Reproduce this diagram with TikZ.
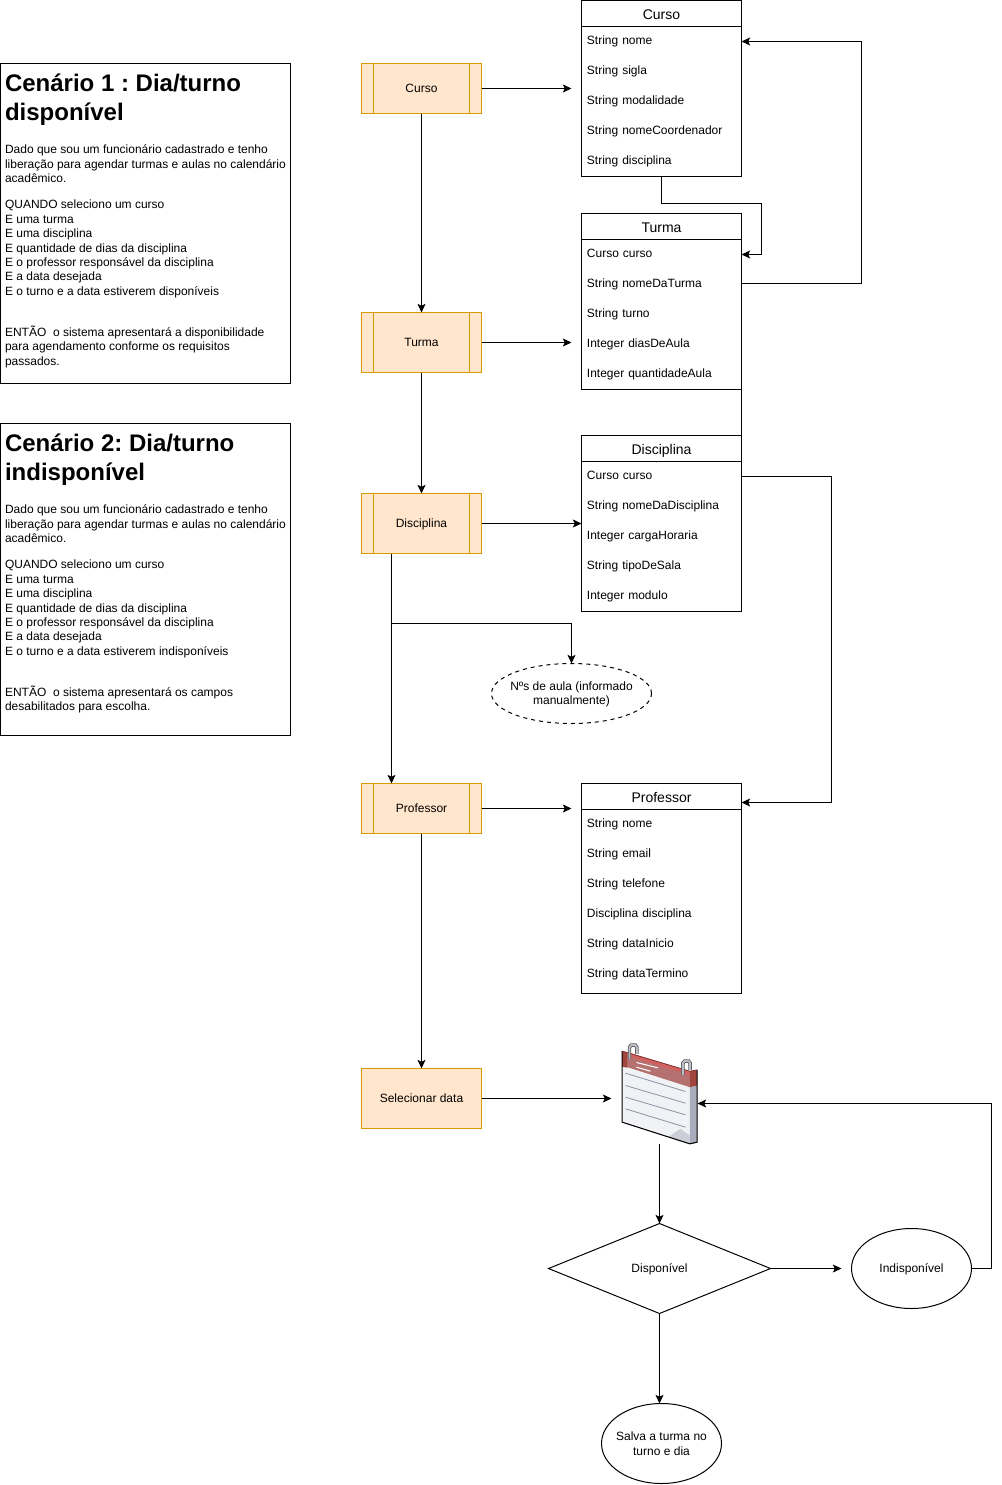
\documentclass[tikz,border=0pt]{standalone}
\usepackage{fontspec}
\setmainfont{Liberation Sans}
\frenchspacing
\usetikzlibrary{arrows.meta,shapes.geometric}

\definecolor{procFundo}{HTML}{FFE6CC}
\definecolor{procLinha}{HTML}{D79B00}
\definecolor{calFolha}{HTML}{F1F2F5}
\definecolor{calLado}{HTML}{A8ACBC}
\definecolor{calFaixa}{HTML}{B5716F}
\definecolor{calClaro}{HTML}{D2605E}
\definecolor{calEscuro}{HTML}{A2453F}
\definecolor{calAro}{HTML}{8E93A3}

\tikzset{
  every node/.style={font=\fontsize{9}{10.8}\selectfont, outer sep=0pt, inner sep=0pt},
  seta/.style={-{Stealth[length=6.5pt,width=6pt,inset=1.5pt]}, line width=0.75pt},
  linhaCon/.style={line width=0.75pt},
  caixa/.style={draw, line width=0.75pt, minimum width=120pt},
  titulo/.style={caixa, minimum height=19.5pt, font=\fontsize{10.5}{12}\selectfont, text height=9pt, text depth=0.5pt},
  linha/.style={minimum width=120pt, minimum height=22.5pt, inner xsep=4.1pt, text width=111.8pt, align=left, text height=7pt, text depth=2pt},
  procBase/.style={draw=procLinha, fill=procFundo, line width=0.75pt, minimum width=90pt, text height=7.75pt, text depth=1.25pt},
  processo/.style={procBase, path picture={
    \draw[procLinha, line width=0.75pt] ([xshift=9pt]path picture bounding box.north west) -- ([xshift=9pt]path picture bounding box.south west);
    \draw[procLinha, line width=0.75pt] ([xshift=-9pt]path picture bounding box.north east) -- ([xshift=-9pt]path picture bounding box.south east);
  }},
  elipse/.style={draw, ellipse, line width=0.75pt, minimum width=90pt, minimum height=60pt, align=center},
  cenario/.style={draw, line width=0.75pt, minimum width=217.5pt},
  cenTitulo/.style={anchor=north west, align=left, font=\fontsize{18}{21.6}\selectfont\bfseries},
  cenTexto/.style={anchor=north west, align=left}
}

\begin{document}
\begin{tikzpicture}[x=0.75pt,y=-0.75pt]

\useasboundingbox (-0.5,-0.5) rectangle (1000.5,1484.5);

% Cenario 1
\node[cenario, minimum height=240pt] (cen1) at (145,223) {};
\node[cenTitulo] (cen1Tit) at (4.5,73.5) {Cenário 1 : Dia/turno\\disponível};
\node[cenTexto] (cen1Txt) at (4.5,144.4) {Dado que sou um funcionário cadastrado e tenho\\
liberação para agendar turmas e aulas no calendário\\
acadêmico.\\[9pt]
QUANDO seleciono um curso\\
E uma turma\\
E uma disciplina\\
E quantidade de dias da disciplina\\
E o professor responsável da disciplina\\
E a data desejada\\
E o turno e a data estiverem disponíveis\\[20pt]
ENTÃO\ \ o sistema apresentará a disponibilidade\\
para agendamento conforme os requisitos\\
passados.};

% Cenario 2
\node[cenario, minimum height=234pt] (cen2) at (145,579) {};
\node[cenTitulo] (cen2Tit) at (4.5,433.5) {Cenário 2: Dia/turno\\indisponível};
\node[cenTexto] (cen2Txt) at (4.5,504.4) {Dado que sou um funcionário cadastrado e tenho\\
liberação para agendar turmas e aulas no calendário\\
acadêmico.\\[9pt]
QUANDO seleciono um curso\\
E uma turma\\
E uma disciplina\\
E quantidade de dias da disciplina\\
E o professor responsável da disciplina\\
E a data desejada\\
E o turno e a data estiverem indisponíveis\\[20pt]
ENTÃO\ \ o sistema apresentará os campos\\
desabilitados para escolha.};

% etapas
\node[processo, minimum height=37.5pt] (pCurso) at (421,88) {Curso};
\node[processo, minimum height=45pt] (pTurma) at (421,342) {Turma};
\node[processo, minimum height=45pt] (pDisc) at (421,523) {Disciplina};
\node[processo, minimum height=37.5pt] (pProf) at (421,808) {Professor};
\node[procBase, minimum height=45pt] (pData) at (421,1098) {Selecionar data};

% classe Curso
\node[caixa, minimum height=132pt] (cCurso) at (661,88) {};
\node[titulo] (cCursoTit) at (661,13) {Curso};
\foreach \i/\t in {0/String nome,1/String sigla,2/String modalidade,3/String nomeCoordenador,4/String disciplina}
  \node[linha] (cCurso\i) at (661,41+30*\i) {\t};

% classe Turma
\node[caixa, minimum height=132pt] (cTurma) at (661,301) {};
\node[titulo] (cTurmaTit) at (661,226) {Turma};
\foreach \i/\t in {0/Curso curso,1/String nomeDaTurma,2/String turno,3/Integer diasDeAula,4/Integer quantidadeAula}
  \node[linha] (cTurma\i) at (661,254+30*\i) {\t};

% classe Disciplina
\node[caixa, minimum height=132pt] (cDisc) at (661,523) {};
\node[titulo] (cDiscTit) at (661,448) {Disciplina};
\foreach \i/\t in {0/Curso curso,1/String nomeDaDisciplina,2/Integer cargaHoraria,3/String tipoDeSala,4/Integer modulo}
  \node[linha] (cDisc\i) at (661,476+30*\i) {\t};

% classe Professor
\node[caixa, minimum height=157.5pt] (cProf) at (661,888) {};
\node[titulo] (cProfTit) at (661,796) {Professor};
\foreach \i/\t in {0/String nome,1/String email,2/String telefone,3/Disciplina disciplina,4/String dataInicio,5/String dataTermino}
  \node[linha] (cProf\i) at (661,824+30*\i) {\t};

\node[elipse, dashed, minimum width=120pt, minimum height=45pt, label={[align=center, yshift=-0.75pt]center:{Nºs de aula (informado\\manualmente)}}] (eAulas) at (571,693) {};

% calendario
\node[minimum width=57pt, minimum height=75pt] (cal) at (659,1093) {};
\begin{scope}[shift={(600,1030)},x=0.25pt,y=-0.25pt]
\fill[calFolha] (65,108) -- (268,170) -- (268,340) -- (65,275) -- cycle;
\fill[calLado] (268,170) -- (290,165) -- (290,335) -- (268,340) -- cycle;
\fill[calFaixa] (80,65) -- (268,122) -- (268,170) -- (80,110) -- cycle;
\fill[calClaro] (80,65) -- (268,122) -- (268,134) -- (80,76) -- cycle;
\fill[calEscuro] (65,62) -- (80,65) -- (80,112) -- (65,108) -- cycle;
\fill[calEscuro] (268,122) -- (290,118) -- (290,165) -- (268,170) -- cycle;
\fill[calLado!60] (205,318) -- (240,295) -- (268,315) -- (268,340) -- cycle;
\draw[black, line width=0.8pt] (65,62) -- (65,275) -- (268,340) -- (290,335) -- (290,118);
\draw[calEscuro!70!black, line width=0.5pt] (65,62) -- (268,122) -- (290,118);
\foreach \a/\b in {128/183,165/218,200/253,235/290}
  \draw[calAro, line width=0.6pt] (75,\a) -- (255,\b);
\draw[white, line width=0.8pt] (108,96) -- (172,112);
\draw[white, line width=0.8pt] (108,110) -- (150,122);
\foreach \dx/\dy in {0/0,160/48} {
  \draw[black!65, line width=2.6pt, shift={(\dx,\dy)}] (87,86) -- (87,50) -- (92,44) -- (105,44) -- (109,50) -- (109,70);
  \draw[calAro!60!white, line width=1.4pt, shift={(\dx,\dy)}] (87,86) -- (87,50) -- (92,44) -- (105,44) -- (109,50) -- (109,70);
}
\end{scope}

% decisao
\node[draw, diamond, aspect=2.47, line width=0.75pt, minimum width=166.5pt, minimum height=67.5pt, text height=7.75pt, text depth=1.25pt] (dDisp) at (659,1268) {Disponível};
\node[elipse, text height=7.75pt, text depth=1.25pt] (eIndisp) at (911,1268) {Indisponível};
\node[elipse, label={[align=center]center:{Salva a turma no\\turno e dia}}] (eSalva) at (661,1443) {};

% fluxo
\draw[seta] (pCurso) -- (pTurma);
\draw[seta] (pTurma) -- (pDisc);
\coordinate (discSai) at ([xshift=-22.5pt]pDisc.south);
\draw[seta] (discSai) -- (discSai |- pProf.north);
\coordinate (ramo) at (discSai |- 0,623);
\draw[seta] (ramo) -- (ramo -| eAulas.north) -- (eAulas.north);
\draw[seta] (pProf) -- (pData);
\draw[seta, shorten >=7.5pt] (pCurso.east) -- (cCurso.west |- pCurso.east);
\draw[seta, shorten >=7.5pt] (pTurma.east) -- (cTurma.west |- pTurma.east);
\draw[seta] (pDisc.east) -- (cDisc.west |- pDisc.east);
\draw[seta, shorten >=7.5pt] (pProf.east) -- (cProf.west |- pProf.east);
\draw[seta, shorten >=7.5pt] (pData.east) -- (cal.west |- pData.east);

% ligacoes das classes
\coordinate (profEnt) at (741,802);
\draw[seta] (cCurso.south) -- ++(0,27) -| ++(100,51) -- (cTurma0.east);
\draw[seta] ([yshift=0.75pt]cTurma1.east) -- ++(120,0) |- (cCurso0.east);
\draw[linhaCon] (cTurma.south east) -- (cDisc.north east);
\draw[seta] (cDisc0.east) -- ++(90,0) |- (profEnt);

% calendario e decisao
\coordinate (calEnt) at (697,1103);
\draw[seta] (cal.south) -- (dDisp.north);
\draw[seta, shorten >=7.5pt] (dDisp.east) -- (eIndisp.west);
\draw[seta] (eIndisp.east) -- ++(20,0) |- (calEnt);
\draw[seta] (dDisp.south) -- (dDisp.south |- eSalva.north);

\end{tikzpicture}
\end{document}
